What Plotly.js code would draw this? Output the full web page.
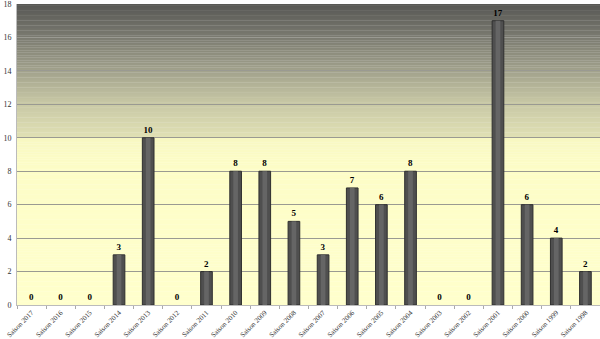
<!DOCTYPE html>
<html>
<head>
<meta charset="utf-8">
<script src="https://cdn.plot.ly/plotly-3.0.1.min.js"></script>
<style>html,body{margin:0;padding:0;background:#fff;}#chart{width:600px;height:339px;}</style>
</head>
<body>
<div id="chart"></div>
<script>
const seasons = ["Saison 2017","Saison 2016","Saison 2015","Saison 2014","Saison 2013","Saison 2012","Saison 2011","Saison 2010","Saison 2009","Saison 2008","Saison 2007","Saison 2006","Saison 2005","Saison 2004","Saison 2003","Saison 2002","Saison 2001","Saison 2000","Saison 1999","Saison 1998"];
const values = [0,0,0,3,10,0,2,8,8,5,3,7,6,8,0,0,17,6,4,2];
</script>
<script>
// background gradient (style only)
const stops = [[0,'#ffffcc'],[8,'#fdfdc7'],[9.95,'#f8f8c2'],[10.05,'#e0e0b4'],[12,'#c9c9a6'],[14,'#a2a28c'],[16,'#7b7b71'],[18,'#575754']];
function hex(c){return [parseInt(c.substr(1,2),16),parseInt(c.substr(3,2),16),parseInt(c.substr(5,2),16)];}
function colAt(v){
  for(let i=0;i<stops.length-1;i++){
    if(v>=stops[i][0]&&v<=stops[i+1][0]){
      const t=(v-stops[i][0])/(stops[i+1][0]-stops[i][0]);
      const a=hex(stops[i][1]),b=hex(stops[i+1][1]);
      return 'rgb('+a.map((x,k)=>Math.round(x+(b[k]-x)*t)).join(',')+')';
    }
  }
  return stops[stops.length-1][1];
}
const shapes=[];
const step=0.1;
for(let v=0; v<18-1e-9; v+=step){
  shapes.push({type:'rect',xref:'paper',yref:'y',x0:0,x1:1,y0:v,y1:Math.min(18,v+step+0.02),
    fillcolor:colAt(v+step/2),line:{width:0},layer:'below'});
}
const lblFont={family:'Liberation Serif',size:9,color:'#000',weight:'bold'};
const traces=[
  {type:'bar',x:seasons,y:values,width:0.4,
   marker:{color:'#4f4f4f',line:{color:'#2f2f2f',width:values.map(v=>v>0?1:0)}},
   text:values.map(String),textposition:'outside',cliponaxis:false,
   textfont:lblFont,outsidetextfont:lblFont,insidetextfont:lblFont,constraintext:'none',hoverinfo:'none'},
  {type:'bar',x:seasons,y:values,width:0.16,
   marker:{color:'#656565',line:{width:0}},hoverinfo:'none'}
];
const layout={
  width:600,height:339,
  margin:{l:17,r:0,t:3.5,b:34},
  paper_bgcolor:'#ffffff',plot_bgcolor:'rgba(0,0,0,0)',
  barmode:'overlay',showlegend:false,
  font:{family:'Liberation Serif',color:'#333'},
  xaxis:{type:'category',tickangle:-45,tickfont:{size:7,color:'#333'},
    tickson:'boundaries',ticks:'outside',ticklen:3,tickcolor:'#aaa',
    showgrid:false,showline:true,linecolor:'#bbb',zeroline:false,automargin:false},
  yaxis:{range:[0,18],dtick:2,tickfont:{size:8,color:'#333'},ticks:'',
    showgrid:true,gridcolor:'#9a9a92',gridwidth:1,showline:true,linecolor:'#bbb',
    zeroline:false,automargin:false,ticklabelstandoff:3,ticklabeloverflow:'allow'},
  shapes:shapes
};
Plotly.newPlot('chart',traces,layout,{displayModeBar:false,staticPlot:true});
</script>
</body>
</html>
